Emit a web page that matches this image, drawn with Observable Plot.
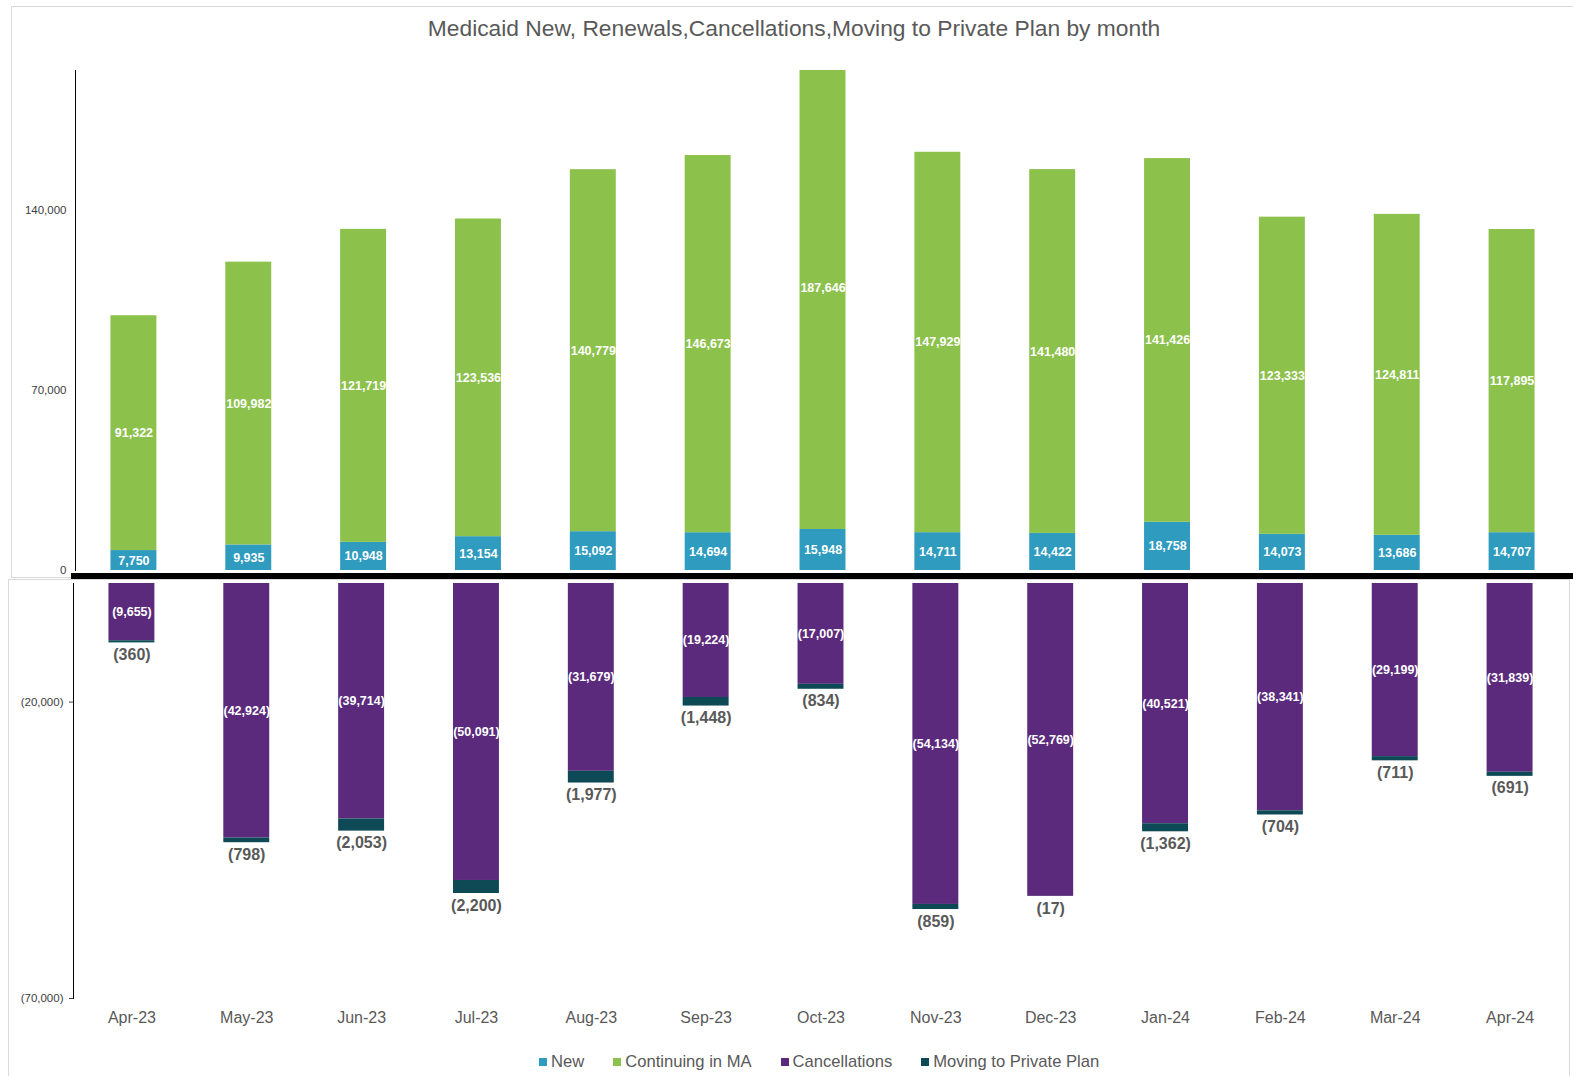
<!DOCTYPE html>
<html>
<head>
<meta charset="utf-8">
<script src="https://cdn.jsdelivr.net/npm/d3@7"></script>
<script src="https://cdn.jsdelivr.net/npm/@observablehq/plot@0.6"></script>
<style>
  html, body { margin: 0; padding: 0; background: #fff; overflow: hidden; }
  body { width: 1573px; height: 1076px; position: relative; font-family: "Liberation Sans", Arial, sans-serif; }
  .abs { position: absolute; }
  #title { left: 0; width: 1588px; top: 15px; text-align: center; font-size: 22.8px; color: #595959; }
  #legend { left: 539px; top: 1052px; display: flex; gap: 29px; font-size: 16.6px; color: #595959; align-items: center; }
  #legend .item { display: flex; align-items: center; gap: 4px; }
  #legend .sw { width: 8px; height: 8px; display: inline-block; }
</style>
</head>
<body>
<div class="abs" style="left:11px;top:6px;width:1700px;height:572px;border:1px solid #d9d9d9;box-sizing:border-box;"></div>
<div class="abs" style="left:8px;top:579px;width:1562px;height:600px;border:1px solid #d9d9d9;box-sizing:border-box;"></div>
<div id="title" class="abs">Medicaid New, Renewals,Cancellations,Moving to Private Plan by month</div>
<div id="top" class="abs" style="left:0;top:0;"></div>
<div id="bottom" class="abs" style="left:-2px;top:578px;"></div>
<div class="abs" style="left:71px;top:573px;width:1510px;height:6px;background:#000;"></div>
<div id="legend" class="abs"></div>
<script>
const months = ["Apr-23","May-23","Jun-23","Jul-23","Aug-23","Sep-23","Oct-23","Nov-23","Dec-23","Jan-24","Feb-24","Mar-24","Apr-24"];
const newMembers = [7750, 9935, 10948, 13154, 15092, 14694, 15948, 14711, 14422, 18758, 14073, 13686, 14707];
const continuing = [91322, 109982, 121719, 123536, 140779, 146673, 187646, 147929, 141480, 141426, 123333, 124811, 117895];
const cancellations = [9655, 42924, 39714, 50091, 31679, 19224, 17007, 54134, 52769, 40521, 38341, 29199, 31839];
const movingPrivate = [360, 798, 2053, 2200, 1977, 1448, 834, 859, 17, 1362, 704, 711, 691];
const seriesNames = ["New", "Continuing in MA", "Cancellations", "Moving to Private Plan"];
const seriesColors = ["#2e9bbf", "#8cc14c", "#5b2a7c", "#0d4a56"];
const topTicks = [0, 70000, 140000];
const bottomTicks = [-20000, -70000];

const fmt = d3.format(",");
const fmtSigned = v => v < 0 ? "(" + fmt(-v) + ")" : fmt(v);
const FONT = "Liberation Sans, Arial, sans-serif";

const topData = months.flatMap((m, i) => [
  {month: m, series: seriesNames[0], value: newMembers[i]},
  {month: m, series: seriesNames[1], value: continuing[i]}
]);
const bottomData = months.flatMap((m, i) => [
  {month: m, series: seriesNames[2], value: -cancellations[i]},
  {month: m, series: seriesNames[3], value: -movingPrivate[i]}
]);
const movingTotals = months.map((m, i) => ({month: m, total: -(cancellations[i] + movingPrivate[i]), moving: -movingPrivate[i]}));

const xOpts = {domain: months, paddingInner: 0.6, paddingOuter: 0.3, round: false, range: [76, 1569]};
const colorOpts = {domain: seriesNames, range: seriesColors};

const topPlot = Plot.plot({
  width: 1573, height: 577,
  marginLeft: 75, marginRight: 4, marginTop: 70, marginBottom: 7,
  style: {background: "transparent", fontFamily: FONT, overflow: "visible"},
  x: {...xOpts, axis: null},
  y: {domain: [0, 194444], axis: null},
  color: colorOpts,
  marks: [
    Plot.barY(topData, {x: "month", y: "value", fill: "series", z: "series", inset: 0, clip: true}),
    Plot.text(topData, Plot.stackY({x: "month", y: "value", z: "series", text: d => fmtSigned(d.value), fill: "white", fontWeight: "bold", fontSize: 12.5})),
    Plot.axisY({ticks: topTicks, tickSize: 0, tickPadding: 9, tickFormat: fmtSigned, fontSize: 11.5, color: "#404040", label: null}),
    Plot.frame({anchor: "left", stroke: "black"})
  ]
});
document.getElementById("top").appendChild(topPlot);

const bottomPlot = Plot.plot({
  width: 1573, height: 460,
  marginLeft: 75, marginRight: 4, marginTop: 5, marginBottom: 40,
  style: {background: "transparent", fontFamily: FONT, overflow: "visible"},
  x: {...xOpts},
  y: {domain: [-70000, 0], axis: null},
  color: colorOpts,
  marks: [
    Plot.barY(bottomData, {x: "month", y: "value", fill: "series", z: "series", inset: 0}),
    Plot.text(bottomData.filter(d => d.series === "Cancellations"), Plot.stackY({x: "month", y: "value", text: d => fmtSigned(d.value), fill: "white", fontWeight: "bold", fontSize: 12.5})),
    Plot.text(movingTotals, {x: "month", y: "total", text: d => fmtSigned(d.moving), dy: 12, fill: "#595959", fontWeight: "bold", fontSize: 16}),
    Plot.axisY({ticks: bottomTicks, tickSize: 4, tickPadding: 6, tickFormat: fmtSigned, fontSize: 11.5, color: "#404040", label: null}),
    Plot.axisX({tickSize: 0, tickPadding: 13, fontSize: 16, color: "#595959", label: null}),
    Plot.frame({anchor: "left", stroke: "black"})
  ]
});
document.getElementById("bottom").appendChild(bottomPlot);

const legend = document.getElementById("legend");
seriesNames.forEach((name, i) => {
  const item = document.createElement("div");
  item.className = "item";
  const sw = document.createElement("span");
  sw.className = "sw";
  sw.style.background = seriesColors[i];
  const label = document.createElement("span");
  label.textContent = name;
  item.appendChild(sw);
  item.appendChild(label);
  legend.appendChild(item);
});
</script>
</body>
</html>
